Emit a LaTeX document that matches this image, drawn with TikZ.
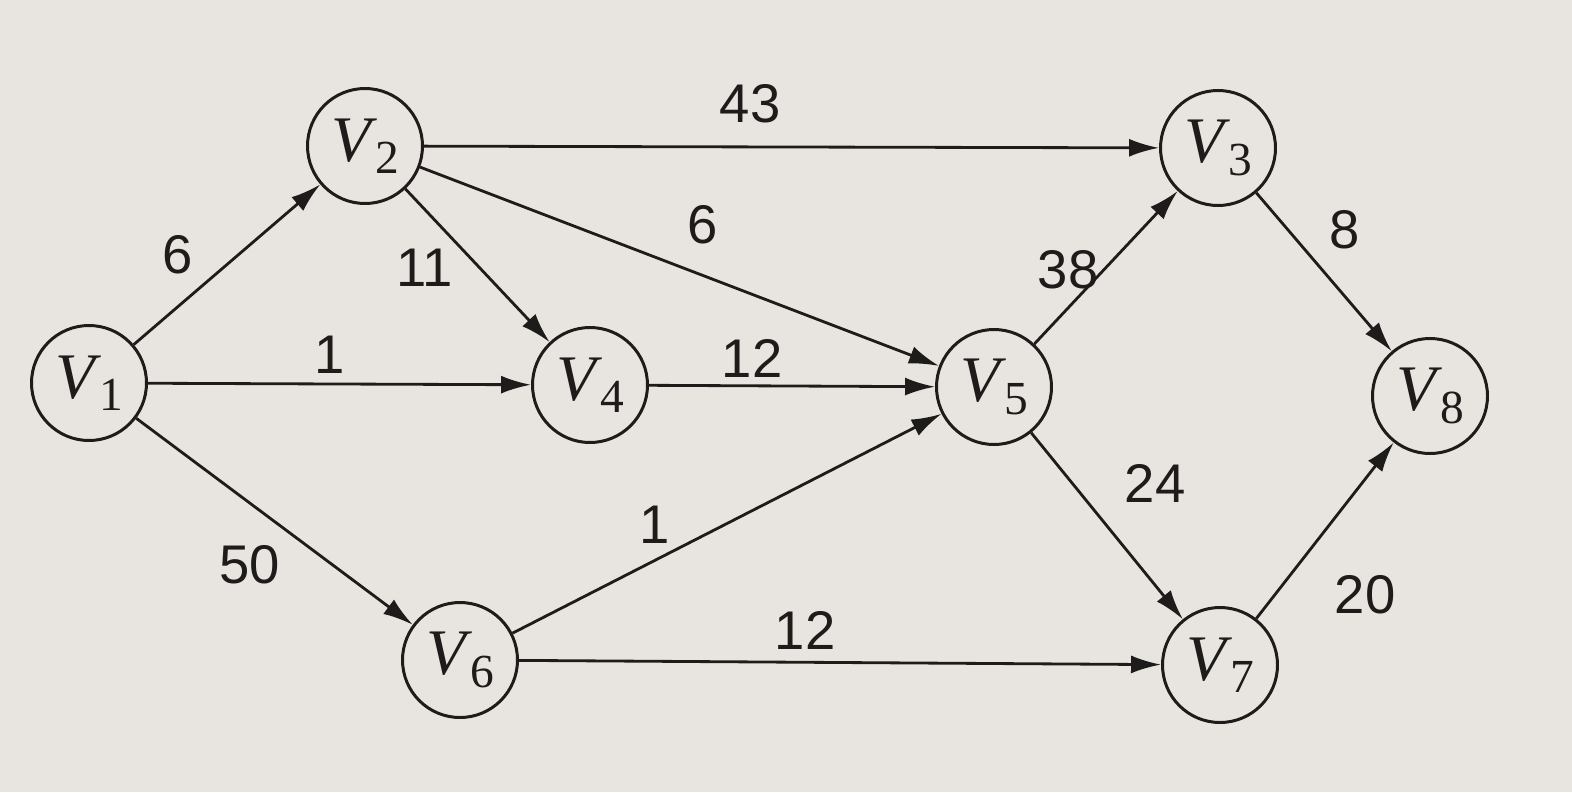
\documentclass[tikz,border=0pt]{standalone}
\usepackage{fontspec}
\setmainfont{Liberation Serif}
\setsansfont{Liberation Sans}
\usetikzlibrary{arrows.meta}
\definecolor{paper}{HTML}{E8E5E0}
\definecolor{ink}{HTML}{1E1C1A}
\newcommand{\vlab}[1]{\textit{V}\kern-1pt\raisebox{-0.42ex}{\fontsize{27}{27}\selectfont #1}}
\begin{document}
\begin{tikzpicture}[x=0.02cm,y=-0.02cm,
  vert/.style={circle,draw=ink,line width=1.7pt,minimum size=2.3cm,inner sep=0pt,
    font=\fontsize{37}{40}\selectfont,text=ink},
  edge/.style={draw=ink,line width=1.6pt,-{Latex[length=0.6cm,width=0.36cm]}},
  wlab/.style={font=\sffamily\fontsize{31}{34}\selectfont,text=ink,inner sep=0pt}]
\fill[paper] (0,0) rectangle (1572,792);
\useasboundingbox (0,0) rectangle (1572,792);
\node[vert] (v1) at (89,383) {\vlab{1}};
\node[vert] (v2) at (365,146) {\vlab{2}};
\node[vert] (v3) at (1218,148) {\vlab{3}};
\node[vert] (v4) at (590,385) {\vlab{4}};
\node[vert] (v5) at (994,387) {\vlab{5}};
\node[vert] (v6) at (460,660) {\vlab{6}};
\node[vert] (v7) at (1220,665) {\vlab{7}};
\node[vert] (v8) at (1430,396) {\vlab{8}};
\draw[edge] (v1) -- (v2);
\draw[edge] (v1) -- (v4);
\draw[edge] (v1) -- (v6);
\draw[edge] (v2) -- (v3);
\draw[edge] (v2) -- (v4);
\draw[edge] (v2) -- (v5);
\draw[edge] (v4) -- (v5);
\draw[edge] (v6) -- (v5);
\draw[edge] (v6) -- (v7);
\draw[edge] (v5) -- (v3);
\draw[edge] (v5) -- (v7);
\draw[edge] (v3) -- (v8);
\draw[edge] (v7) -- (v8);
\node[wlab] (l12) at (178,255) {6};
\node[wlab] (l23) at (750,104) {43};
\node[wlab] (l24) at (425,268) {11};
\node[wlab] (l25) at (703,225) {6};
\node[wlab] (l14) at (330,355) {1};
\node[wlab] (l45) at (752,358) {12};
\node[wlab] (l53) at (1068,270) {38};
\node[wlab] (l38) at (1345,230) {8};
\node[wlab] (l57) at (1155,483) {24};
\node[wlab] (l16) at (250,565) {50};
\node[wlab] (l65) at (655,525) {1};
\node[wlab] (l67) at (805,630) {12};
\node[wlab] (l78) at (1365,595) {20};
\end{tikzpicture}
\end{document}
